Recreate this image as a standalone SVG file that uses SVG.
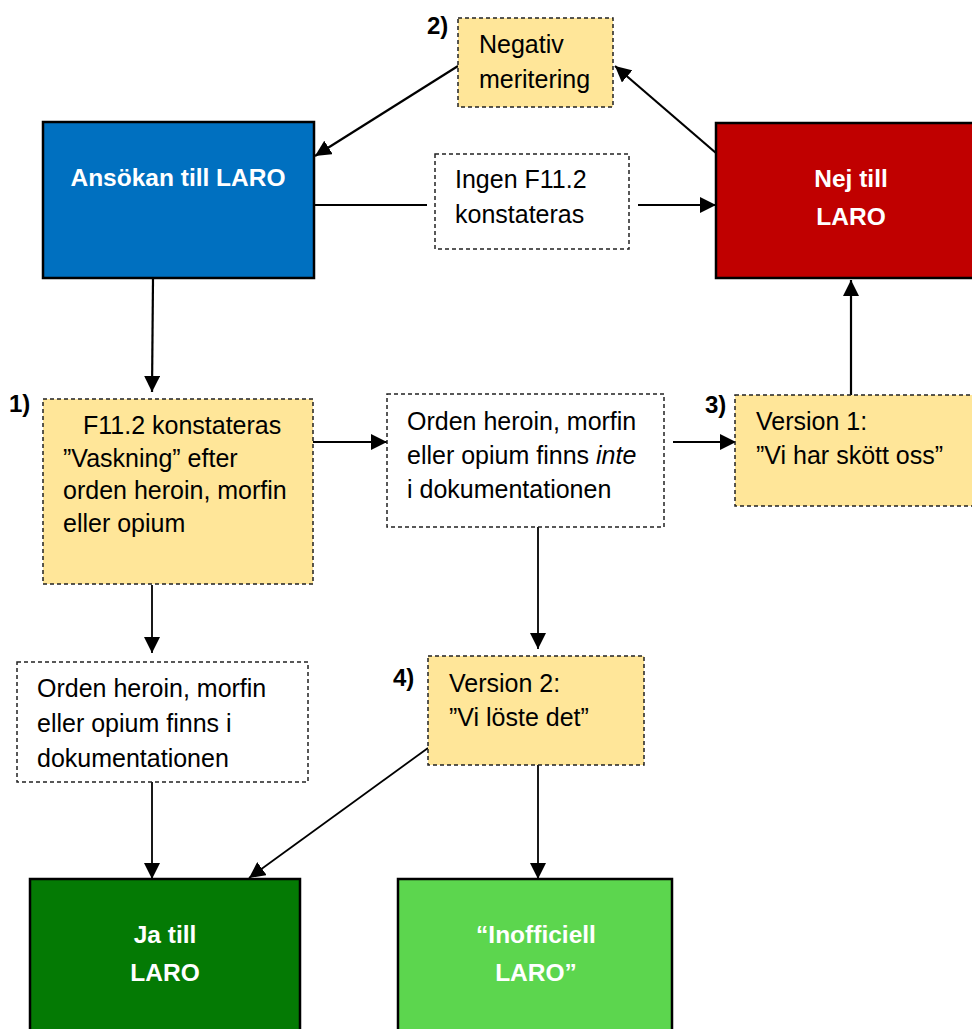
<svg xmlns="http://www.w3.org/2000/svg" width="972" height="1029" viewBox="0 0 972 1029">
<defs>
<style>
.solid{stroke:#000;stroke-width:2.5}
.dash{stroke:#222;stroke-width:1.5;stroke-dasharray:4 3}
.yel{fill:#FFE699}
.wht{fill:#FFFFFF}
.t{font-family:"Liberation Sans",Arial,sans-serif;font-size:25px;fill:#000}
.b{font-family:"Liberation Sans",Arial,sans-serif;font-size:24.5px;font-weight:bold;fill:#FFF;text-anchor:middle}
.n{font-family:"Liberation Sans",Arial,sans-serif;font-size:24px;font-weight:bold;fill:#000}
.c{fill:none;stroke:#000;stroke-width:2.2}
.c2{fill:none;stroke:#000;stroke-width:1.8}
</style>
<marker id="ah" markerUnits="userSpaceOnUse" markerWidth="16" markerHeight="16" viewBox="0 0 16 16" refX="16" refY="8" orient="auto">
<path d="M0,0 L16,8 L0,16 Z" fill="#000"/>
</marker>
</defs>
<rect width="972" height="1029" fill="#FFF"/>

<g id="connectors">
<line class="c" x1="314" y1="205" x2="427" y2="205"/>
<line class="c" x1="638" y1="205" x2="716" y2="205" marker-end="url(#ah)"/>
<line class="c" x1="716" y1="153" x2="615" y2="66" marker-end="url(#ah)"/>
<line class="c" x1="458" y1="66" x2="315" y2="156" marker-end="url(#ah)"/>
<line class="c" x1="153" y1="279" x2="152" y2="392" marker-end="url(#ah)"/>
<line class="c" x1="313" y1="442" x2="387" y2="442" marker-end="url(#ah)"/>
<line class="c" x1="673" y1="442" x2="736" y2="442" marker-end="url(#ah)"/>
<line class="c" x1="851" y1="395" x2="851" y2="280" marker-end="url(#ah)"/>
<line class="c2" x1="538" y1="527" x2="538" y2="649" marker-end="url(#ah)"/>
<line class="c2" x1="152" y1="585" x2="152" y2="653" marker-end="url(#ah)"/>
<line class="c2" x1="152" y1="782" x2="152" y2="879" marker-end="url(#ah)"/>
<line class="c2" x1="428" y1="748" x2="249" y2="878" marker-end="url(#ah)"/>
<line class="c2" x1="538" y1="765" x2="538" y2="879" marker-end="url(#ah)"/>
</g>

<g id="ansokan">
<rect class="solid" x="43" y="122" width="271" height="156" fill="#0070C0"/>
<text class="b" x="178" y="186">Ansökan till LARO</text>
</g>

<g id="negativ">
<rect class="dash yel" x="458" y="18" width="155" height="89"/>
<text class="t" x="479" y="53">Negativ</text>
<text class="t" x="479" y="88">meritering</text>
<text class="n" x="427" y="34">2)</text>
</g>

<g id="nej">
<rect class="solid" x="716" y="123" width="270" height="155" fill="#C00000"/>
<text class="b" x="851" y="187">Nej till</text>
<text class="b" x="851" y="225">LARO</text>
</g>

<g id="ingen">
<rect class="dash wht" x="435" y="154" width="194" height="95"/>
<text class="t" x="455" y="188">Ingen F11.2</text>
<text class="t" x="455" y="223">konstateras</text>
</g>

<g id="f112">
<rect class="dash yel" x="43" y="399" width="270" height="185"/>
<text class="t" x="83" y="434">F11.2 konstateras</text>
<text class="t" x="63" y="467">”Vaskning” efter</text>
<text class="t" x="63" y="499">orden heroin, morfin</text>
<text class="t" x="63" y="532">eller opium</text>
<text class="n" x="9" y="412">1)</text>
</g>

<g id="inte">
<rect class="dash wht" x="387" y="394" width="277" height="133"/>
<text class="t" x="407" y="430">Orden heroin, morfin</text>
<text class="t" x="407" y="464">eller opium finns <tspan font-style="italic">inte</tspan></text>
<text class="t" x="407" y="498">i dokumentationen</text>
</g>

<g id="version1">
<rect class="dash yel" x="735" y="395" width="250" height="111"/>
<text class="t" x="756" y="430">Version 1:</text>
<text class="t" x="756" y="464">”Vi har skött oss”</text>
<text class="n" x="705" y="413">3)</text>
</g>

<g id="finns">
<rect class="dash wht" x="17" y="662" width="291" height="120"/>
<text class="t" x="37" y="697">Orden heroin, morfin</text>
<text class="t" x="37" y="732">eller opium finns i</text>
<text class="t" x="37" y="767">dokumentationen</text>
</g>

<g id="version2">
<rect class="dash yel" x="428" y="656" width="216" height="109"/>
<text class="t" x="449" y="692">Version 2:</text>
<text class="t" x="449" y="726">”Vi löste det”</text>
<text class="n" x="393" y="686">4)</text>
</g>

<g id="ja">
<rect class="solid" x="30" y="879" width="270" height="160" fill="#047A04"/>
<text class="b" x="165" y="943">Ja till</text>
<text class="b" x="165" y="981">LARO</text>
</g>

<g id="inofficiell">
<rect class="solid" x="398" y="879" width="274" height="160" fill="#5CD64E"/>
<text class="b" x="536" y="943">“Inofficiell</text>
<text class="b" x="536" y="981">LARO”</text>
</g>
</svg>
